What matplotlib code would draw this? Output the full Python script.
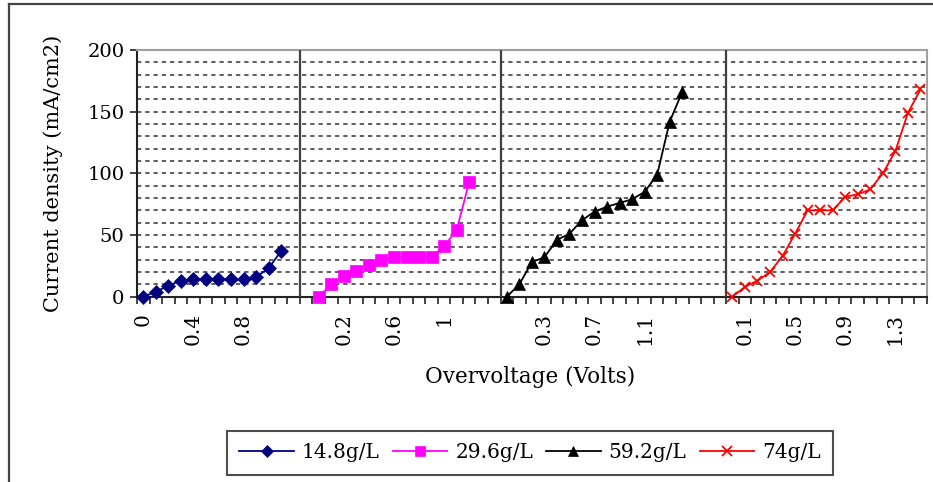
import numpy as np
import matplotlib
matplotlib.use("Agg")
import matplotlib.pyplot as plt
from matplotlib.lines import Line2D
from matplotlib.ticker import MultipleLocator, FixedLocator

plt.rcParams['font.family'] = ['DejaVu Serif']

# overvoltage (V) and current density (mA/cm2) for each bath concentration
names = ["14.8g/L", "29.6g/L", "59.2g/L", "74g/L"]
volts_148 = [0, 0.1, 0.2, 0.3, 0.4, 0.5, 0.6, 0.7, 0.8, 0.9, 1.0, 1.1]
cd_148 = [0, 4, 9, 13, 14, 14, 14, 14, 14, 16, 23, 37]
volts_296 = [0, 0.1, 0.2, 0.3, 0.4, 0.5, 0.6, 0.7, 0.8, 0.9, 1.0, 1.1, 1.2]
cd_296 = [0, 10, 17, 21, 26, 30, 32, 32, 32, 32, 41, 54, 93]
volts_592 = [0, 0.1, 0.2, 0.3, 0.4, 0.5, 0.6, 0.7, 0.8, 0.9, 1.0, 1.1, 1.2, 1.3, 1.4]
cd_592 = [0, 10, 28, 32, 46, 51, 62, 69, 73, 76, 79, 85, 99, 142, 166]
volts_74 = [0, 0.1, 0.2, 0.3, 0.4, 0.5, 0.6, 0.7, 0.8, 0.9, 1.0, 1.1, 1.2, 1.3, 1.4, 1.5]
cd_74 = [0, 8, 13, 20, 33, 51, 70, 70, 70, 81, 83, 87, 100, 118, 149, 168]

# empty categories around each block on the shared category axis
gap_before = [0, 1, 0, 0]
gap_after = [1, 2, 3, 0]

colors = ["#000080", "#FF00FF", "black", "red"]
markers = ["D", "s", "^", "x"]
msizes = [7, 8.5, 8.5, 7.5]

volts = [volts_148, volts_296, volts_592, volts_74]
cds = [cd_148, cd_296, cd_592, cd_74]

fig = plt.figure(figsize=(9.33, 4.82), dpi=100)
ax = fig.add_axes([137 / 933, 1 - 296.7 / 482, (926.7 - 137) / 933, (296.7 - 50) / 482])

labels = []       # category label for every slot on the axis ('' = blank)
dividers = []
start = 0
for i in range(4):
    if i > 0:
        dividers.append(start - 0.5)
    start += gap_before[i]
    pos = np.arange(start, start + len(volts[i]))
    ax.plot(pos, cds[i], color=colors[i], lw=1.3, marker=markers[i],
            ms=msizes[i], mew=1.3 if markers[i] == "x" else 0.5,
            mec=colors[i], label=names[i], zorder=5, clip_on=False)
    labels += [""] * gap_before[i] + [f"{v:g}" for v in volts[i]] + [""] * gap_after[i]
    start += len(volts[i]) + gap_after[i]

n = len(labels)
ax.set_xlim(-0.5, n - 0.5)
ax.set_ylim(0, 200)

for d in dividers:
    ax.axvline(d, color="#404040", lw=1.6, zorder=4)

# tick marks between categories, labels on every fourth category
ax.xaxis.set_minor_locator(FixedLocator(np.arange(n + 1) - 0.5))
lab_pos = [k for k in range(0, n, 4) if labels[k]]
ax.set_xticks(lab_pos)
ax.set_xticklabels([labels[k] for k in lab_pos], rotation=90, fontsize=14.5)
ax.tick_params(axis="x", which="major", length=0, pad=12)
ax.tick_params(axis="x", which="minor", length=5, width=1.2, color="#222222")

ax.yaxis.set_major_locator(MultipleLocator(50))
ax.yaxis.set_minor_locator(MultipleLocator(10))
ax.tick_params(axis="y", which="major", length=5, width=1.2, labelsize=14, pad=4, color="#222222")
ax.tick_params(axis="y", which="minor", length=0)
ax.grid(axis="y", which="both", color="#333333", lw=1.1, dashes=(2.8, 2.6))
ax.set_axisbelow(True)

for s in ["left", "bottom"]:
    ax.spines[s].set_color("#222222")
    ax.spines[s].set_linewidth(1.5)
for s in ["top", "right"]:
    ax.spines[s].set_color("#a0a0a0")
    ax.spines[s].set_linewidth(1.5)

fig.text(53 / 933, 1 - 173 / 482, "Current density (mA/cm2)", rotation=90,
         ha="center", va="center", fontsize=15)
fig.text(530 / 933, 1 - 377 / 482, "Overvoltage (Volts)", ha="center",
         va="center", fontsize=15.5)

leg = fig.legend(loc="center", bbox_to_anchor=(530 / 933, 1 - 453 / 482), ncol=4,
                 fontsize=14.5, frameon=True, fancybox=False, handlelength=2.7,
                 handletextpad=0.4, columnspacing=0.65, borderpad=0.6,
                 borderaxespad=0)
leg.get_frame().set_edgecolor("#222222")
leg.get_frame().set_linewidth(1.5)
for h in leg.legend_handles:
    h.set_markersize(6.5)

# outer chart border
fig.add_artist(Line2D([9 / 933, 9 / 933], [0, 1 - 4 / 482], color="#444444", lw=1.6))
fig.add_artist(Line2D([9 / 933, 1], [1 - 4 / 482, 1 - 4 / 482], color="#444444", lw=1.6))

fig.savefig("out.png", dpi=100)
